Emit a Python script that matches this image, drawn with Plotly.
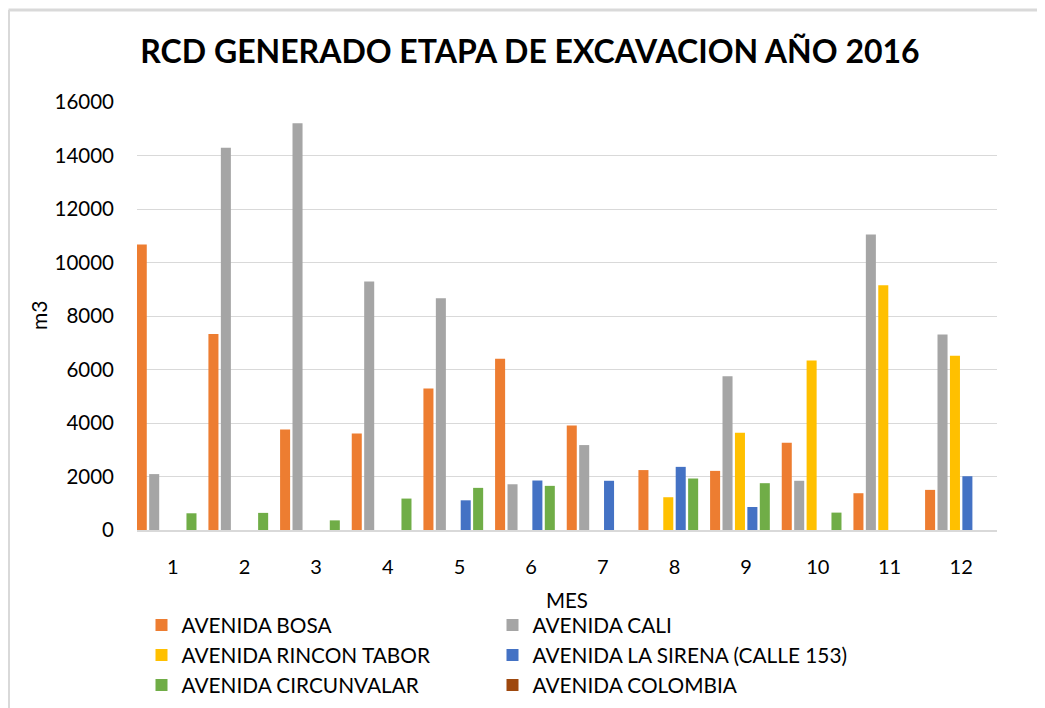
import plotly.graph_objects as go

months = [str(m) for m in range(1, 13)]
series_names = [
    "AVENIDA BOSA",
    "AVENIDA CALI",
    "AVENIDA RINCON TABOR",
    "AVENIDA LA SIRENA (CALLE 153)",
    "AVENIDA CIRCUNVALAR",
    "AVENIDA COLOMBIA",
]
bosa = [10675, 7325, 3760, 3610, 5290, 6400, 3910, 2240, 2210, 3260, 1375, 1500]
cali = [2090, 14290, 15210, 9290, 8660, 1710, 3175, 0, 5750, 1840, 11050, 7310]
rincon_tabor = [0, 0, 0, 0, 0, 0, 0, 1225, 3640, 6340, 9150, 6510]
la_sirena = [0, 0, 0, 0, 1110, 1850, 1840, 2360, 860, 0, 0, 2010]
circunvalar = [625, 640, 360, 1175, 1575, 1650, 0, 1925, 1750, 650, 0, 0]
colombia = [0, 0, 0, 0, 0, 0, 0, 0, 0, 0, 0, 0]
y_ticks = [0, 2000, 4000, 6000, 8000, 10000, 12000, 14000, 16000]

series_values = [bosa, cali, rincon_tabor, la_sirena, circunvalar, colombia]
colors = ["#ED7D31", "#A5A5A5", "#FFC000", "#4472C4", "#70AD47", "#9E480E"]

FONT = "Lato"
# the page body adds an 8px margin, so the figure is 8px smaller and
# every reference pixel position is shifted by -8
OFF = 8
W, H = 1045 - OFF, 708 - OFF
L, R, T, B = 137 - OFF, 48, 102 - OFF, 178
pw = W - L - R
ph = H - T - B

fig = go.Figure()
pitch = 0.1734
bw = 0.14
x_num = list(range(1, 13))
for i, (name, vals, col) in enumerate(zip(series_names, series_values, colors)):
    fig.add_trace(go.Bar(
        x=x_num, y=vals, name=name,
        marker=dict(color=col, line=dict(width=0)),
        width=bw,
        offset=(i - 2.5) * pitch - bw / 2,
        legend="legend" if i % 2 == 0 else "legend2",
    ))

def px_x(p):  # reference pixel -> paper x
    return (p - OFF - L) / pw

def px_y(p):  # reference pixel -> paper y
    return (H - B - (p - OFF)) / ph

legend_common = dict(
    orientation="v",
    xanchor="left",
    yref="container", y=1 - (605 - OFF) / H, yanchor="top",
    font=dict(family=FONT, size=20.8, color="#000000"),
    itemwidth=30,
    tracegroupgap=0,
    traceorder="normal",
    bgcolor="rgba(0,0,0,0)",
)

fig.update_layout(
    width=W, height=H,
    margin=dict(l=L, r=R, t=T, b=B, autoexpand=False),
    paper_bgcolor="white", plot_bgcolor="white",
    barmode="overlay",
    font=dict(family=FONT, color="#000000", size=20),
    title=dict(
        text="<b>RCD GENERADO ETAPA DE EXCAVACION AÑO 2016</b>",
        x=px_x(530), xref="paper", xanchor="center",
        y=1 - (52 - OFF) / H, yref="container", yanchor="middle",
        font=dict(family=FONT, size=32, color="#000000"),
    ),
    xaxis=dict(
        range=[0.5, 12.5],
        tickmode="array", tickvals=x_num, ticktext=months,
        showgrid=False, zeroline=False,
        showline=True, linecolor="#d9d9d9", linewidth=1.5,
        ticks="", ticklabelstandoff=18, automargin=False,
        tickfont=dict(family=FONT, size=20, color="#000000"),
    ),
    yaxis=dict(
        range=[0, 16000],
        tickmode="array", tickvals=y_ticks, ticktext=[str(v) for v in y_ticks],
        showgrid=True, gridcolor="#d9d9d9", gridwidth=1.2,
        zeroline=False, showline=False, ticks="",
        ticklabelstandoff=22, automargin=False,
        tickfont=dict(family=FONT, size=20.5, color="#000000"),
    ),
    legend=dict(legend_common, xref="container", x=(141.5 - OFF) / W),
    legend2=dict(legend_common, xref="container", x=(492.5 - OFF) / W),
    showlegend=True,
)

# axis titles
fig.add_annotation(
    text="MES", xref="paper", yref="paper",
    x=px_x(567), y=px_y(600), xanchor="center", yanchor="middle",
    showarrow=False, font=dict(family=FONT, size=20.5, color="#000000"),
)
fig.add_annotation(
    text="m3", xref="paper", yref="paper", textangle=-90,
    x=px_x(38), y=px_y(316), xanchor="center", yanchor="middle",
    showarrow=False, font=dict(family=FONT, size=21, color="#000000"),
)

# chart area border (left and top edges visible in the reference)
fig.add_shape(type="line", xref="paper", yref="paper",
              x0=px_x(8.5), x1=px_x(8.5), y0=px_y(720), y1=px_y(10),
              line=dict(color="#d9d9d9", width=3))
fig.add_shape(type="line", xref="paper", yref="paper",
              x0=px_x(8.5), x1=px_x(1060), y0=px_y(10), y1=px_y(10),
              line=dict(color="#d9d9d9", width=3))

fig.write_html("out.html")
